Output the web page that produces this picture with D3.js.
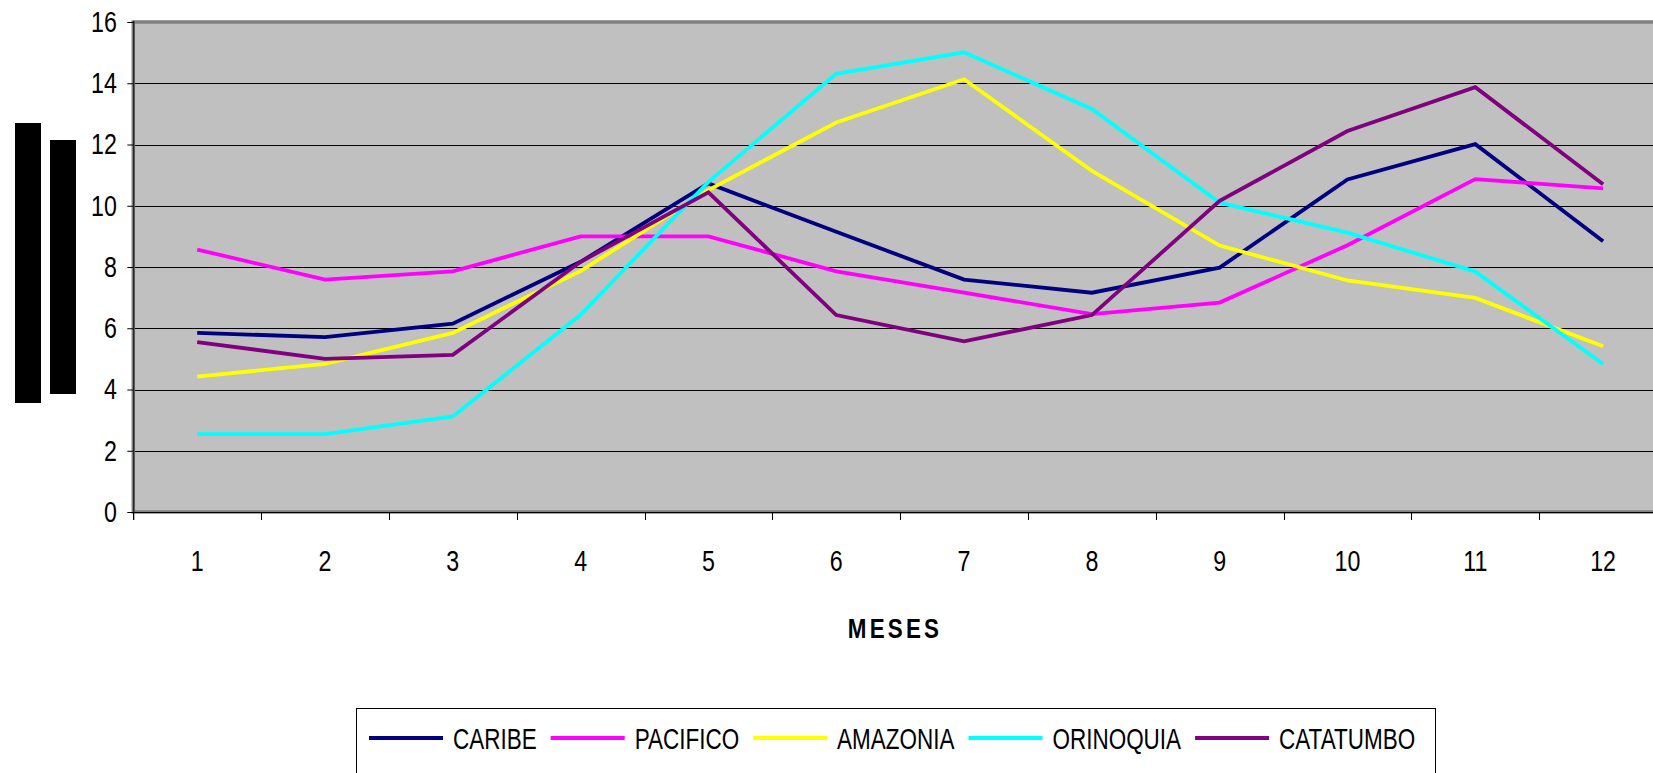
<!DOCTYPE html>
<html>
<head>
<meta charset="utf-8">
<script src="https://cdn.jsdelivr.net/npm/d3@7"></script>
<style>
  html, body { margin: 0; padding: 0; background: #ffffff; }
  svg { display: block; }
  text { font-family: "Liberation Sans", Arial, sans-serif; }
</style>
</head>
<body>
<svg id="chart" width="1653" height="773"></svg>
<script>
// ---- data ----
const months = ["1","2","3","4","5","6","7","8","9","10","11","12"];
const seriesNames = ["CARIBE","PACIFICO","AMAZONIA","ORINOQUIA","CATATUMBO"];
const caribe    = [5.85, 5.71, 6.15, 8.17, 10.73, 9.15, 7.59, 7.16, 7.98, 10.86, 12.01, 8.84];
const pacifico  = [8.57, 7.59, 7.86, 9.00, 9.00, 7.86, 7.16, 6.46, 6.84, 8.71, 10.87, 10.57];
const amazonia  = [4.42, 4.84, 5.85, 7.87, 10.51, 12.72, 14.13, 11.14, 8.70, 7.56, 6.99, 5.41];
const orinoquia = [2.54, 2.54, 3.12, 6.44, 10.78, 14.31, 15.01, 13.16, 10.10, 9.12, 7.85, 4.83];
const catatumbo = [5.55, 5.00, 5.13, 8.17, 10.44, 6.43, 5.57, 6.43, 10.16, 12.44, 13.87, 10.70];
const yTicks = [0, 2, 4, 6, 8, 10, 12, 14, 16];
const xTitle = "MESES";
const colors = ["#000080", "#FF00FF", "#FFFF00", "#00FFFF", "#800080"];

const seriesValues = [caribe, pacifico, amazonia, orinoquia, catatumbo];

// ---- layout ----
const svg = d3.select("#chart");
const plotL = 133.3, plotR = 1667, plotT = 22, plotB = 512;
const narrow = 0.8;      // horizontal condensation to mimic a narrow face
const legendNarrow = 0.775;
const fs = 29;

const x = d3.scaleBand().domain(months).range([plotL, plotR]).padding(0);
const y = d3.scaleLinear().domain([0, 16]).range([plotB, plotT]);

// left decorative black bars (rotated title glyph blocks)
svg.append("rect").attr("x", 15).attr("y", 123).attr("width", 26).attr("height", 280).attr("fill", "#000");
svg.append("rect").attr("x", 50).attr("y", 140).attr("width", 26).attr("height", 254).attr("fill", "#000");

// plot background
svg.append("rect")
  .attr("x", plotL).attr("y", plotT)
  .attr("width", plotR - plotL).attr("height", plotB - plotT)
  .attr("fill", "#C0C0C0");

// gridlines
svg.append("g").selectAll("line")
  .data(yTicks.filter(v => v > 0 && v < 16))
  .join("line")
  .attr("x1", plotL).attr("x2", plotR)
  .attr("y1", d => Math.round(y(d)) + 0.5).attr("y2", d => Math.round(y(d)) + 0.5)
  .attr("stroke", "#000").attr("stroke-width", 1);

// plot border
svg.append("rect")
  .attr("x", plotL).attr("y", plotT)
  .attr("width", plotR - plotL).attr("height", plotB - plotT)
  .attr("fill", "none").attr("stroke", "#808080").attr("stroke-width", 3.5);

// y axis
const yAxis = d3.axisLeft(y).tickValues(yTicks).tickSize(6).tickPadding(14.5).tickFormat(d3.format("d"));
const gy = svg.append("g").attr("transform", `translate(${plotL},0)`).call(yAxis);
gy.select(".domain").attr("stroke", "#000").attr("d", `M0.5,${plotT - 1}V${plotB + 8}`);
gy.selectAll(".tick line").attr("stroke", "#000");
gy.selectAll(".tick text").attr("font-size", fs).attr("fill", "#000")
  .style("font-family", '"Liberation Sans", Arial, sans-serif')
  .attr("transform", `scale(${narrow},1)`);

// x axis
const xAxis = d3.axisBottom(x).tickSize(0).tickPadding(38);
const gx = svg.append("g").attr("transform", `translate(0,${plotB})`).call(xAxis);
gx.select(".domain").attr("stroke", "#000").attr("d", `M${plotL},0.5H${plotR}`);
gx.selectAll(".tick text").attr("font-size", fs).attr("fill", "#000")
  .style("font-family", '"Liberation Sans", Arial, sans-serif')
  .attr("transform", `scale(${narrow},1)`);
// boundary ticks between categories
const bounds = d3.range(months.length + 1).map(i => plotL + i * x.bandwidth());
svg.append("g").selectAll("line").data(bounds).join("line")
  .attr("x1", d => Math.round(d) + 0.5).attr("x2", d => Math.round(d) + 0.5)
  .attr("y1", plotB).attr("y2", plotB + 8)
  .attr("stroke", "#000").attr("stroke-width", 1);

// lines
const line = d3.line()
  .x((d, i) => x(months[i]) + x.bandwidth() / 2)
  .y(d => y(d));
svg.append("g").selectAll("path").data(seriesValues).join("path")
  .attr("d", d => line(d))
  .attr("fill", "none")
  .attr("stroke", (d, i) => colors[i])
  .attr("stroke-width", 3.8)
  .attr("stroke-linejoin", "miter");

// x title
svg.append("text")
  .attr("transform", `translate(895,638) scale(${narrow},1)`)
  .attr("text-anchor", "middle")
  .attr("font-size", 28).attr("font-weight", "bold")
  .attr("letter-spacing", 4)
  .attr("fill", "#000")
  .text(xTitle);

// legend
const lg = svg.append("g");
lg.append("rect").attr("x", 356.5).attr("y", 708.5).attr("width", 1079).attr("height", 80)
  .attr("fill", "#fff").attr("stroke", "#000").attr("stroke-width", 1);
let cx = 369;
const legendY = 738;
seriesNames.forEach((name, i) => {
  lg.append("line").attr("x1", cx).attr("x2", cx + 74).attr("y1", legendY).attr("y2", legendY)
    .attr("stroke", colors[i]).attr("stroke-width", 4);
  const t = lg.append("text")
    .attr("transform", `translate(${cx + 84},${legendY + 10.5}) scale(${legendNarrow},1)`)
    .attr("font-size", fs).attr("fill", "#000").text(name);
  cx = cx + 84 + t.node().getComputedTextLength() * legendNarrow + 14;
});
</script>
</body>
</html>
